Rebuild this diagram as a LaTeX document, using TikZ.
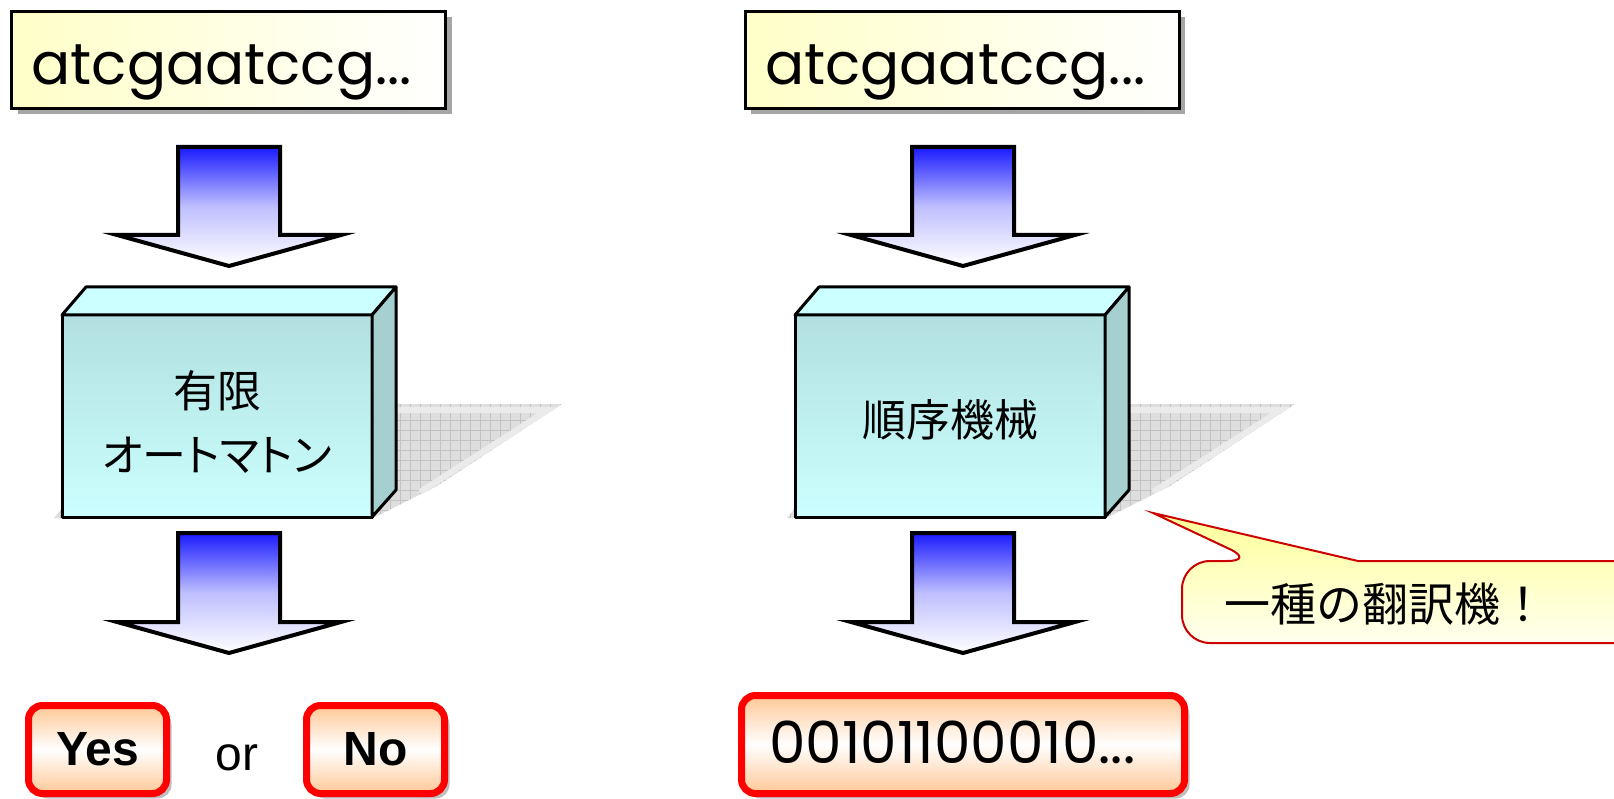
\documentclass[tikz,border=0pt]{standalone}
\usepackage{fontspec}
\usetikzlibrary{shadows}
\newfontfamily\jpfont{Noto Sans CJK JP}
\newfontfamily\jppfont[RawFeature=+palt]{Noto Sans CJK JP}
\newfontfamily\dnafont{Poppins}
\newfontfamily\arialfont{Liberation Sans}
\definecolor{facetop}{HTML}{B2E0E0}
\definecolor{facebot}{HTML}{CCFFFF}
\definecolor{faceside}{HTML}{A6D0D0}
\definecolor{peach}{HTML}{FFC896}
\definecolor{cream}{HTML}{FFFFC8}
\definecolor{arrowblue}{HTML}{1A1AFF}
\definecolor{noteedge}{HTML}{CC0000}
\definecolor{notefill}{HTML}{FFFF99}

\begin{document}
\begin{tikzpicture}[x=1pt, y=-1pt,
	inbox/.style={draw, line width=3pt, left color=cream, right color=white,
		minimum width=434pt, minimum height=97pt, text width=394pt, inner xsep=20pt, align=left,
		text height=50pt, text depth=0pt,
		drop shadow={shadow xshift=6pt, shadow yshift=-6pt, fill=black!35, opacity=1},
		font=\dnafont\fontsize{58}{60}\selectfont},
	outbox/.style={draw=red, line width=7pt, rounded corners=14pt,
		top color=peach, bottom color=peach, middle color=white,
		drop shadow={shadow xshift=5pt, shadow yshift=-5pt, fill=black!25, opacity=1},
		font=\arialfont\bfseries\fontsize{48}{50}\selectfont},
	blockarrow/.style={draw, line width=4pt, top color=arrowblue, bottom color=white, middle color=arrowblue!28},
	face/.style={draw, line width=3pt, line join=round},
	boxtext/.style={align=center, font=\jppfont\fontsize{44}{64}\selectfont}]

	\useasboundingbox (0,0) rectangle (1614,799);

	% Draw the input strings
	\node[inbox] (inL) at (228.5,60) {atcgaatccg...};
	\node[inbox] (inR) at (962,60) {atcgaatccg...};

	% Draw the arrows below the inputs
	\draw[blockarrow] (229-51,147) -- (229+51,147) -- (229+51,235) -- (229+112,235) -- (229,266) -- (229-112,235) -- (229-51,235) -- cycle;
	\draw[blockarrow] (963-51,147) -- (963+51,147) -- (963+51,235) -- (963+112,235) -- (963,266) -- (963-112,235) -- (963-51,235) -- cycle;

	% Draw the shadows on the floor
	\begin{scope}
		\clip (54,518) -- (373,518) -- (437,486) -- (562,404) -- (150,404) -- cycle;
		\fill[black!13] (40,400) rectangle (570,520);
		\draw[black!24, line width=0.6pt, step=10pt] (40,520) grid (570,400);
		\draw[black!8, line width=6pt] (150,410) -- (548,410) -- (420,492);
	\end{scope}
	\begin{scope}
		\clip (54+733,518) -- (373+733,518) -- (437+733,486) -- (562+733,404) -- (150+733,404) -- cycle;
		\fill[black!13] (40+733,400) rectangle (570+733,520);
		\draw[black!24, line width=0.6pt, step=10pt] (40+733,520) grid (570+733,400);
		\draw[black!8, line width=6pt] (150+733,410) -- (548+733,410) -- (420+733,492);
	\end{scope}

	% Draw the left machine
	\draw[face, top color=facetop, bottom color=facebot] (62,315) rectangle (372,517);
	\draw[face, fill=facebot] (62,315) -- (86,287) -- (396,287) -- (372,315) -- cycle;
	\draw[face, fill=faceside] (372,315) -- (396,287) -- (396,490) -- (372,517) -- cycle;
	\node[boxtext] (fa) at (217,422) {有限\\オートマトン};

	% Draw the right machine
	\draw[face, top color=facetop, bottom color=facebot] (795,315) rectangle (1105,517);
	\draw[face, fill=facebot] (795,315) -- (819,287) -- (1129,287) -- (1105,315) -- cycle;
	\draw[face, fill=faceside] (1105,315) -- (1129,287) -- (1129,490) -- (1105,517) -- cycle;
	\node[boxtext] (sm) at (950,420) {順序機械};

	% Draw the arrows below the machines
	\draw[blockarrow] (229-51,533) -- (229+51,533) -- (229+51,622) -- (229+112,622) -- (229,653) -- (229-112,622) -- (229-51,622) -- cycle;
	\draw[blockarrow] (963-51,533) -- (963+51,533) -- (963+51,622) -- (963+112,622) -- (963,653) -- (963-112,622) -- (963-51,622) -- cycle;

	% Draw the outputs
	\node[outbox, minimum width=138pt, minimum height=88pt] (yes) at (97.5,749.5) {Yes};
	\node[anchor=base, font=\arialfont\fontsize{48}{50}\selectfont] (or) at (237,770) {or};
	\node[outbox, minimum width=138pt, minimum height=88pt] (no) at (375.5,749.5) {No};
	\node[outbox, minimum width=443pt, minimum height=98pt, text width=387pt, inner xsep=28pt, align=left,
		text height=37pt, text depth=0pt,
		font=\dnafont\fontsize{58}{60}\selectfont] (out) at (963,744.5) {00101100010...};

	% Draw the speech bubble
	\begin{scope}
		\clip (0,0) rectangle (1614,799);
		\draw[draw=noteedge, line width=2pt, top color=notefill, bottom color=notefill!15]
			(1255,561) -- (1153,513) -- (1358,561) [rounded corners=28pt] -- (1660,561) -- (1660,643) -- (1182,643) -- (1182,561) -- cycle;
	\end{scope}
	\node[font=\jpfont\fontsize{46}{50}\selectfont] (note) at (1385,604) {一種の翻訳機！};

\end{tikzpicture}
\end{document}
